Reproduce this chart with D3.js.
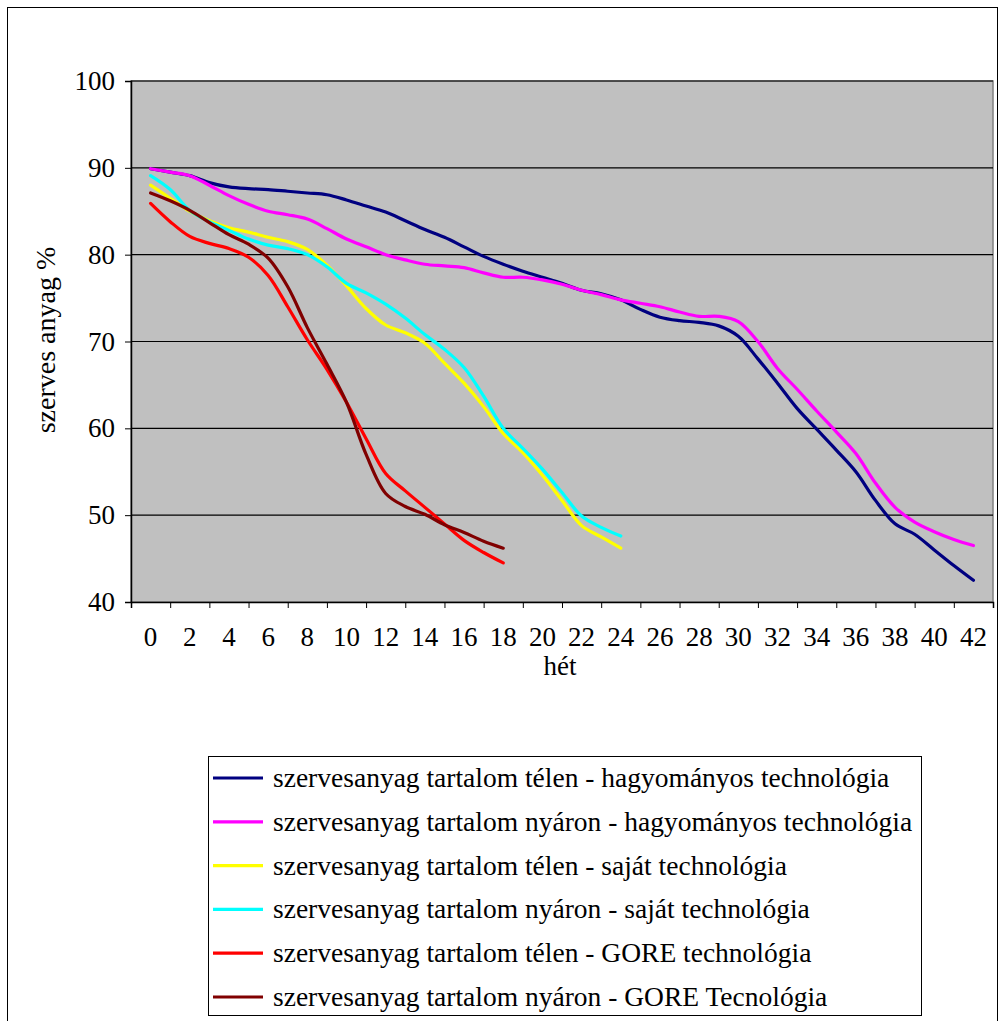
<!DOCTYPE html>
<html>
<head>
<meta charset="utf-8">
<script src="https://cdn.jsdelivr.net/npm/d3@7/dist/d3.min.js"></script>
<style>
  html, body { margin: 0; padding: 0; background: #fff; }
  svg text { font-family: "Liberation Serif", "Times New Roman", serif; fill: #000; }
</style>
</head>
<body>
<svg id="chart" width="1000" height="1021"></svg>
<script>
// Organic matter content (%) by week
const weeks = d3.range(0, 43);
const weekLabels = d3.range(0, 43, 2);
const yTicks = [40, 50, 60, 70, 80, 90, 100];

const telenHagyomanyos = [89.9, 89.5, 89.1, 88.3, 87.8, 87.6, 87.5, 87.3, 87.1, 86.9,
  86.3, 85.6, 84.9, 83.9, 82.9, 82.0, 80.9, 79.8, 78.9, 78.1,
  77.4, 76.7, 75.9, 75.5, 74.8, 73.7, 72.8, 72.4, 72.2, 71.8,
  70.6, 68.0, 65.2, 62.3, 59.9, 57.5, 55.0, 51.7, 49.0, 47.8,
  46.0, 44.2, 42.5];
const nyaronHagyomanyos = [89.9, 89.5, 89.1, 88.0, 86.8, 85.8, 85.0, 84.6, 84.1, 83.0,
  81.8, 80.9, 80.0, 79.4, 78.9, 78.7, 78.5, 77.9, 77.4, 77.4,
  77.1, 76.6, 75.9, 75.4, 74.8, 74.4, 74.0, 73.4, 72.9, 72.9,
  72.3, 70.0, 66.9, 64.5, 62.0, 59.6, 57.1, 53.7, 50.9, 49.2,
  48.1, 47.2, 46.5];
const telenSajat = [88.0, 86.5, 85.0, 83.9, 83.1, 82.6, 82.0, 81.5, 80.6, 78.8,
  76.4, 73.8, 71.9, 71.0, 69.8, 67.5, 65.2, 62.5, 59.4, 57.2,
  54.6, 51.7, 48.8, 47.5, 46.2];
const nyaronSajat = [89.1, 87.5, 85.1, 83.8, 82.8, 81.8, 81.1, 80.7, 80.0, 78.6,
  76.7, 75.6, 74.3, 72.7, 70.8, 69.1, 67.0, 63.7, 60.0, 57.7,
  55.3, 52.6, 49.9, 48.6, 47.6];
const telenGore = [85.9, 83.8, 82.1, 81.3, 80.7, 79.7, 77.6, 74.0, 70.2, 66.8,
  63.0, 58.8, 54.8, 52.8, 50.9, 49.0, 47.1, 45.7, 44.5];
const nyaronGore = [87.1, 86.2, 85.1, 83.7, 82.3, 81.2, 79.6, 76.3, 71.6, 67.4,
  63.0, 57.0, 52.5, 51.0, 50.1, 48.9, 48.0, 47.0, 46.2];

const seriesNames = [
  "szervesanyag tartalom télen - hagyományos technológia",
  "szervesanyag tartalom nyáron - hagyományos technológia",
  "szervesanyag tartalom télen - saját technológia",
  "szervesanyag tartalom nyáron - saját technológia",
  "szervesanyag tartalom télen - GORE technológia",
  "szervesanyag tartalom nyáron - GORE Tecnológia"
];
const seriesValues = [telenHagyomanyos, nyaronHagyomanyos, telenSajat, nyaronSajat, telenGore, nyaronGore];
const seriesColors = ["#000080", "#FF00FF", "#FFFF00", "#00FFFF", "#FF0000", "#800000"];

const FONT = "27px";
const svg = d3.select("#chart");

// outer chart frame
svg.append("rect")
  .attr("x", 7.5).attr("y", 7.5).attr("width", 990).attr("height", 1030)
  .attr("fill", "#fff").attr("stroke", "#000").attr("stroke-width", 1);

const plot = { left: 131, right: 993, top: 81, bottom: 602 };

const x = d3.scaleLinear().domain([-1, 43]).range([plot.left, plot.right]);
const y = d3.scaleLinear().domain([40, 100]).range([plot.bottom, plot.top]);

// plot area
svg.append("rect")
  .attr("x", plot.left).attr("y", plot.top)
  .attr("width", plot.right - plot.left).attr("height", plot.bottom - plot.top)
  .attr("fill", "#C0C0C0").attr("stroke", "#808080").attr("stroke-width", 1.5);

// horizontal gridlines
svg.append("g")
  .selectAll("line")
  .data(yTicks.filter(d => d > 40))
  .join("line")
  .attr("x1", plot.left).attr("x2", plot.right)
  .attr("y1", d => y(d)).attr("y2", d => y(d))
  .attr("stroke", "#000").attr("stroke-width", 1.2);

// y axis
const yAxis = svg.append("g")
  .attr("transform", `translate(${plot.left},0)`)
  .call(d3.axisLeft(y).tickValues(yTicks).tickSize(6).tickPadding(10).tickFormat(d3.format("d")));
yAxis.select(".domain").attr("stroke", "#000").attr("stroke-width", 1.5);
yAxis.selectAll(".tick line").attr("stroke", "#000");
yAxis.selectAll("text").style("font-size", FONT).attr("fill", "#000");

// x axis: tick marks between the category labels
const xTickPositions = d3.range(-1, 44, 2);
const xAxis = svg.append("g")
  .attr("transform", `translate(0,${plot.bottom})`)
  .call(d3.axisBottom(x).tickValues(xTickPositions).tickSize(6).tickFormat(""));
xAxis.select(".domain").attr("stroke", "#000").attr("stroke-width", 1.5);
xAxis.selectAll(".tick line").attr("stroke", "#000");

svg.append("g")
  .selectAll("text")
  .data(weekLabels)
  .join("text")
  .attr("x", d => x(d))
  .attr("y", 646)
  .attr("text-anchor", "middle")
  .style("font-size", FONT)
  .text(d => d);

// axis titles
svg.append("text")
  .attr("x", 560).attr("y", 675)
  .attr("text-anchor", "middle")
  .style("font-size", FONT)
  .text("hét");

svg.append("text")
  .attr("transform", "translate(55,340) rotate(-90)")
  .attr("text-anchor", "middle")
  .style("font-size", "28px")
  .text("szerves anyag %");

// series lines
const line = d3.line()
  .x((d, i) => x(weeks[i]))
  .y(d => y(d))
  .curve(d3.curveCatmullRom.alpha(0.5));

svg.append("g")
  .selectAll("path")
  .data(seriesValues)
  .join("path")
  .attr("d", d => line(d))
  .attr("fill", "none")
  .attr("stroke", (d, i) => seriesColors[i])
  .attr("stroke-width", 3.2)
  .attr("stroke-linejoin", "round")
  .attr("stroke-linecap", "round");

// legend
const legend = svg.append("g");
legend.append("rect")
  .attr("x", 208.5).attr("y", 756.5).attr("width", 713).attr("height", 259)
  .attr("fill", "#fff").attr("stroke", "#000").attr("stroke-width", 1);

const rowY = d3.scaleLinear().domain([0, 5]).range([778, 997]);
const rows = legend.selectAll("g.row")
  .data(seriesNames)
  .join("g")
  .attr("class", "row")
  .attr("transform", (d, i) => `translate(0,${rowY(i)})`);
rows.append("line")
  .attr("x1", 213).attr("x2", 263)
  .attr("stroke", (d, i) => seriesColors[i])
  .attr("stroke-width", 3.2);
rows.append("text")
  .attr("x", 273).attr("y", 0)
  .attr("dy", "0.33em")
  .style("font-size", "27.5px")
  .text(d => d);
</script>
</body>
</html>
